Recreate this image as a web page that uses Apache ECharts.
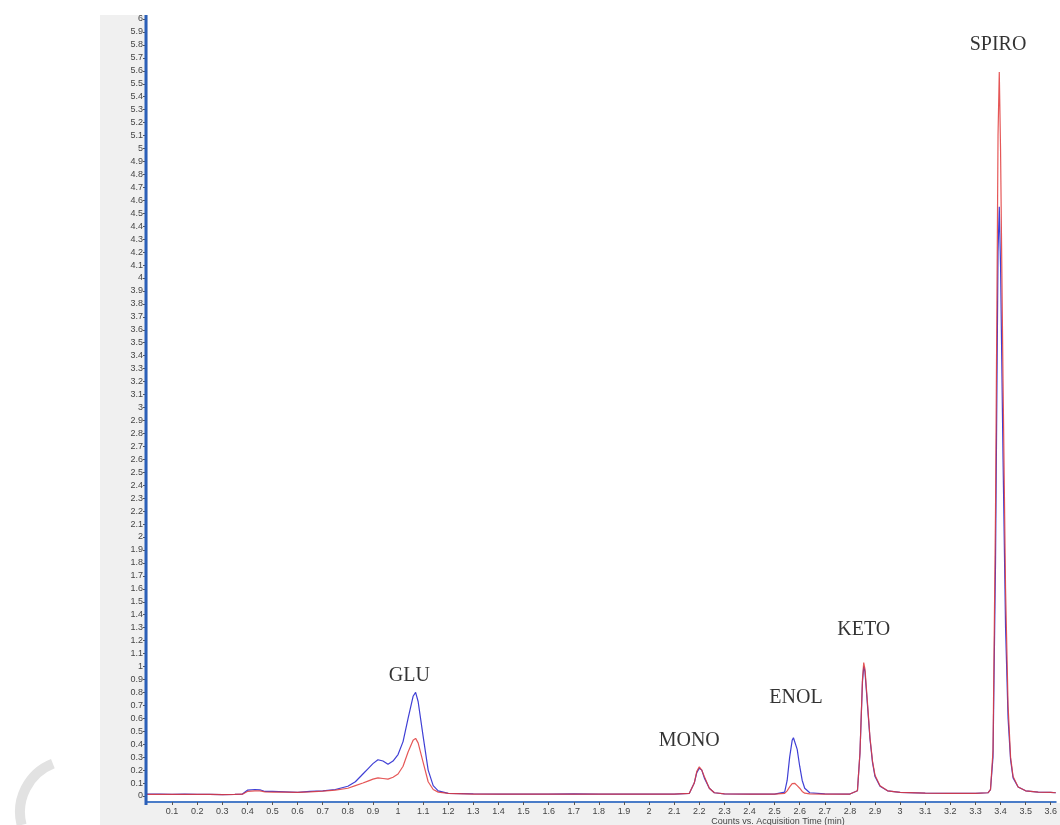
<!DOCTYPE html>
<html>
<head>
<meta charset="utf-8">
<script src="https://cdn.jsdelivr.net/npm/echarts@6/dist/echarts.min.js"></script>
<style>
html,body{margin:0;padding:0;background:#fff;}
#chart{width:1060px;height:825px;}
</style>
</head>
<body>
<div id="chart"></div>
<script>
// Acquisition time (min)
var times = [0, 0.05, 0.1, 0.15, 0.2, 0.25, 0.3, 0.35, 0.38, 0.4, 0.43, 0.45, 0.47, 0.5, 0.55, 0.6, 0.65, 0.7, 0.75, 0.8,
  0.83, 0.86, 0.88, 0.9, 0.92, 0.94, 0.96, 0.98, 1.0, 1.02, 1.04, 1.06, 1.07, 1.08, 1.1, 1.12, 1.14, 1.16, 1.2, 1.3,
  1.4, 1.5, 1.6, 1.7, 1.8, 1.9, 2.0, 2.1, 2.16, 2.18, 2.19, 2.2, 2.21, 2.22, 2.24, 2.26, 2.3, 2.4, 2.5, 2.54,
  2.55, 2.56, 2.57, 2.575, 2.58, 2.59, 2.6, 2.61, 2.62, 2.64, 2.7, 2.8, 2.83, 2.84, 2.85, 2.855, 2.86, 2.87, 2.88, 2.89,
  2.9, 2.92, 2.95, 3.0, 3.1, 3.2, 3.3, 3.35, 3.36, 3.37, 3.38, 3.39, 3.395, 3.4, 3.41, 3.42, 3.43, 3.44, 3.45, 3.47,
  3.5, 3.55, 3.6, 3.62];
// Counts (blue trace)
var blueCounts = [0.015, 0.015, 0.012, 0.014, 0.013, 0.012, 0.010, 0.012, 0.015, 0.045, 0.05, 0.048, 0.035, 0.035, 0.032, 0.028, 0.035, 0.04, 0.05, 0.075,
  0.11, 0.17, 0.21, 0.25, 0.28, 0.27, 0.245, 0.27, 0.32, 0.42, 0.6, 0.77, 0.8, 0.73, 0.46, 0.2, 0.08, 0.04, 0.02, 0.017,
  0.015, 0.015, 0.014, 0.016, 0.015, 0.014, 0.015, 0.015, 0.02, 0.1, 0.18, 0.215, 0.2, 0.14, 0.06, 0.025, 0.016, 0.015, 0.015, 0.03,
  0.12, 0.3, 0.43, 0.45, 0.44, 0.36, 0.23, 0.12, 0.06, 0.025, 0.016, 0.015, 0.04, 0.33, 0.88, 1.0, 0.96, 0.7, 0.44, 0.26,
  0.15, 0.075, 0.04, 0.028, 0.022, 0.02, 0.02, 0.025, 0.05, 0.3, 1.8, 4.2, 4.55, 4.1, 2.6, 1.3, 0.6, 0.28, 0.14, 0.07,
  0.04, 0.03, 0.028, 0.025];
// Counts (red trace)
var redCounts = [0.012, 0.013, 0.012, 0.013, 0.012, 0.012, 0.011, 0.012, 0.014, 0.035, 0.04, 0.04, 0.032, 0.03, 0.03, 0.028, 0.032, 0.038, 0.045, 0.06,
  0.08, 0.1, 0.115, 0.13, 0.14, 0.135, 0.13, 0.145, 0.17, 0.23, 0.34, 0.43, 0.445, 0.41, 0.26, 0.11, 0.05, 0.03, 0.02, 0.015,
  0.015, 0.014, 0.015, 0.015, 0.014, 0.015, 0.014, 0.015, 0.02, 0.1, 0.19, 0.225, 0.2, 0.15, 0.06, 0.025, 0.016, 0.015, 0.015, 0.02,
  0.04, 0.07, 0.095, 0.1, 0.098, 0.08, 0.06, 0.035, 0.022, 0.017, 0.015, 0.015, 0.04, 0.33, 0.9, 1.03, 0.98, 0.72, 0.45, 0.27,
  0.16, 0.08, 0.04, 0.028, 0.022, 0.02, 0.02, 0.025, 0.05, 0.35, 2.2, 5.1, 5.59, 5.0, 3.2, 1.6, 0.7, 0.3, 0.15, 0.07,
  0.04, 0.03, 0.028, 0.025];
// Peak labels
var peakNames = ['GLU', 'MONO', 'ENOL', 'KETO', 'SPIRO'];
var peakTimes = [1.045, 2.16, 2.585, 2.855, 3.39];
var peakLabelY = [0.93, 0.43, 0.76, 1.28, 5.8];

var xTitle = 'Counts vs. Acquisition Time (min)';

function pairs(xs, ys) { return xs.map(function (x, i) { return [x, ys[i]]; }); }

var chart = echarts.init(document.getElementById('chart'), null, {renderer: 'canvas'});
var labelFont = 'Liberation Sans, Arial, sans-serif';
chart.setOption({
  animation: false,
  backgroundColor: '#ffffff',
  graphic: [
    {type: 'rect', z: -10, silent: true, shape: {x: 100, y: 15, width: 960, height: 810}, style: {fill: '#f0f0f0'}},
    {type: 'rect', z: -9, silent: true, shape: {x: 148, y: 15, width: 912, height: 788}, style: {fill: '#ffffff'}},
    {type: 'line', z: 5, silent: true, shape: {x1: 146, y1: 15, x2: 146, y2: 805}, style: {stroke: '#2b5fb8', lineWidth: 3}},
    {type: 'arc', z: -11, silent: true, shape: {cx: 72, cy: 812, r: 52, startAngle: Math.PI * 0.92, endAngle: Math.PI * 1.38}, style: {stroke: '#e2e2e2', lineWidth: 10, fill: null}},
    {type: 'text', z: 10, silent: true, style: {text: xTitle, x: 778, y: 817, textAlign: 'center', textVerticalAlign: 'top', fill: '#444', font: '9px ' + labelFont}}
  ],
  grid: {left: 147, right: 0, top: 19, bottom: 29, containLabel: false},
  xAxis: {
    type: 'value', min: 0, max: 3.62, interval: 0.1, offset: 6,
    axisLine: {show: true, onZero: false, lineStyle: {color: '#4a7cc8', width: 2}},
    axisTick: {show: true, length: 3, lineStyle: {color: '#555'}},
    splitLine: {show: false},
    axisLabel: {
      color: '#444', fontSize: 9, fontFamily: labelFont, margin: 5,
      showMinLabel: false, showMaxLabel: false,
      formatter: function (v) { return v === 0 ? '' : String(+v.toFixed(1)); }
    }
  },
  yAxis: {
    type: 'value', min: 0, max: 6, interval: 0.1,
    axisLine: {show: false},
    axisTick: {show: true, length: 4, lineStyle: {color: '#555'}},
    splitLine: {show: false},
    axisLabel: {
      color: '#444', fontSize: 9, fontFamily: labelFont, margin: 4,
      formatter: function (v) { return String(+v.toFixed(1)); }
    }
  },
  series: [
    {
      type: 'line', name: 'blue', data: pairs(times, blueCounts), showSymbol: false, smooth: false,
      lineStyle: {color: '#2a2ad0', width: 1.2, opacity: 0.9}, z: 2
    },
    {
      type: 'line', name: 'red', data: pairs(times, redCounts), showSymbol: false, smooth: false,
      lineStyle: {color: '#e03a3a', width: 1.2, opacity: 0.85}, z: 3
    },
    {
      type: 'scatter', name: 'labels', z: 4, symbolSize: 1, silent: true,
      itemStyle: {color: 'rgba(0,0,0,0)'},
      data: peakNames.map(function (n, i) { return {name: n, value: [peakTimes[i], peakLabelY[i]]}; }),
      label: {
        show: true, position: 'inside', formatter: '{b}', color: '#000',
        fontFamily: 'Liberation Serif, Times New Roman, serif', fontSize: 20
      }
    }
  ]
});
</script>
</body>
</html>
